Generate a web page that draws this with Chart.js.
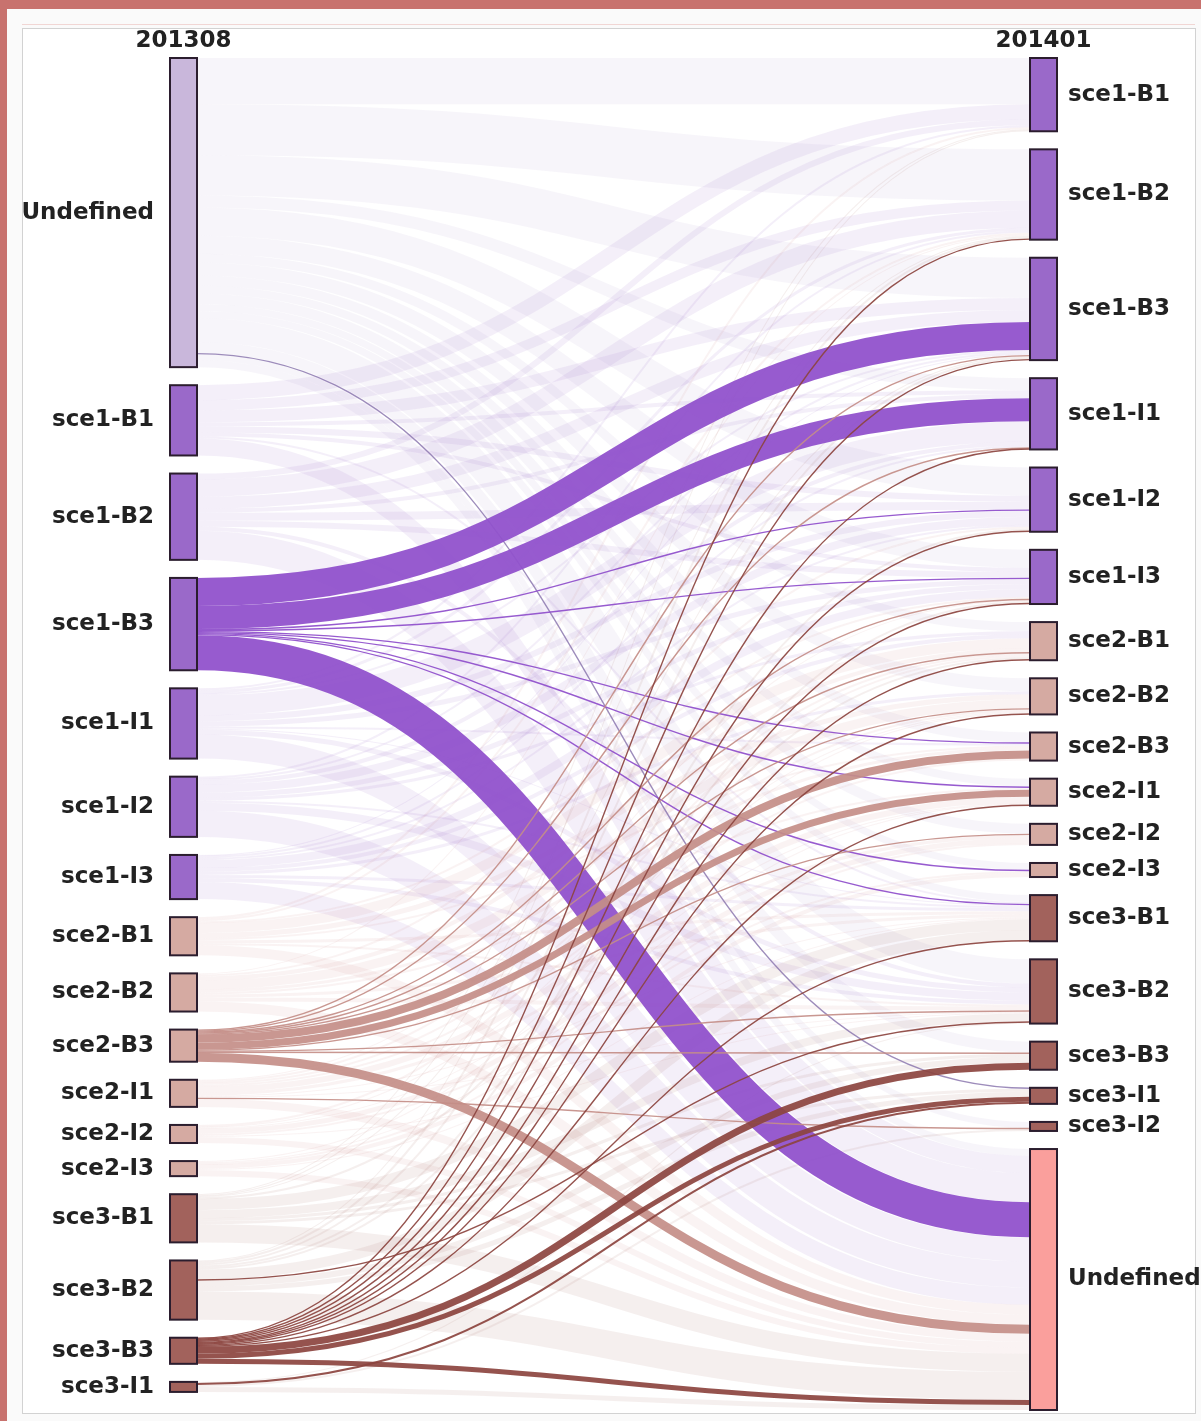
<!DOCTYPE html>
<html>
<head>
<meta charset="utf-8">
<script src="https://cdn.jsdelivr.net/npm/chart.js@4/dist/chart.umd.min.js"></script>
<style>
  body { margin: 0; background: #fafafa; width: 1201px; height: 1421px; overflow: hidden; }
  .band-top { position: absolute; left: 0; top: 0; width: 1201px; height: 9px; background: #c8726e; }
  .band-left { position: absolute; left: 0; top: 0; width: 7px; height: 1421px; background: #c8726e; }
  .rule { position: absolute; left: 22px; top: 24px; width: 1173px; height: 1px; background: #f1d6d4; }
  .panel { position: absolute; left: 22px; top: 28px; width: 1172px; height: 1384px; background: #fff; border: 1px solid #d2d2d2; }
  #chart { position: absolute; left: 0; top: 0; }
</style>
</head>
<body>
<div class="band-top"></div>
<div class="band-left"></div>
<div class="rule"></div>
<div class="panel"></div>
<canvas id="chart" width="1201" height="1421"></canvas>
<script>
const columnLabels = ["201308", "201401"];

const leftNodes = [
  "Undefined", "sce1-B1", "sce1-B2", "sce1-B3", "sce1-I1", "sce1-I2", "sce1-I3",
  "sce2-B1", "sce2-B2", "sce2-B3", "sce2-I1", "sce2-I2", "sce2-I3",
  "sce3-B1", "sce3-B2", "sce3-B3", "sce3-I1",
];

const rightNodes = [
  "sce1-B1", "sce1-B2", "sce1-B3", "sce1-I1", "sce1-I2", "sce1-I3",
  "sce2-B1", "sce2-B2", "sce2-B3", "sce2-I1", "sce2-I2", "sce2-I3",
  "sce3-B1", "sce3-B2", "sce3-B3", "sce3-I1", "sce3-I2", "Undefined",
];

// [left index, right index, value, highlighted]
const flows = [
  [0, 0, 46, 0], [0, 1, 51, 0], [0, 2, 40, 0], [0, 3, 12, 0], [0, 4, 28, 0], [0, 5, 18, 0],
  [0, 6, 9, 0], [0, 7, 13, 0], [0, 8, 10, 0], [0, 9, 8, 0], [0, 10, 10, 0], [0, 11, 7, 0],
  [0, 12, 7, 0], [0, 13, 24, 0], [0, 14, 11, 0], [0, 15, 1, 1], [0, 16, 6, 0], [0, 17, 7, 0],

  [1, 0, 15, 0], [1, 1, 10, 0], [1, 2, 12, 0], [1, 3, 4, 0], [1, 4, 6, 0], [1, 5, 4, 0],
  [1, 12, 2, 0], [1, 17, 17, 0],

  [2, 0, 6, 0], [2, 1, 17, 0], [2, 2, 12, 0], [2, 3, 4, 0], [2, 4, 8, 0], [2, 5, 6, 0],
  [2, 13, 4, 0], [2, 17, 29, 0],

  [3, 2, 28, 1], [3, 3, 23, 1], [3, 4, 1, 1], [3, 5, 1, 1], [3, 8, 1, 1], [3, 9, 1, 1],
  [3, 11, 1, 1], [3, 12, 1, 1], [3, 17, 35, 1],

  [4, 0, 2, 0], [4, 1, 3, 0], [4, 2, 2, 0], [4, 3, 20, 0], [4, 4, 6, 0], [4, 5, 5, 0],
  [4, 8, 2, 0], [4, 12, 1, 0], [4, 13, 5, 0], [4, 17, 24, 0],

  [5, 1, 2, 0], [5, 2, 2, 0], [5, 3, 4, 0], [5, 4, 8, 0], [5, 5, 5, 0], [5, 6, 3, 0],
  [5, 12, 2, 0], [5, 13, 8, 0], [5, 17, 26, 0],

  [6, 2, 1, 0], [6, 3, 2, 0], [6, 4, 2, 0], [6, 5, 8, 0], [6, 6, 4, 0], [6, 7, 3, 0],
  [6, 12, 3, 0], [6, 13, 4, 0], [6, 17, 17, 0],

  [7, 0, 2, 0], [7, 1, 2, 0], [7, 5, 2, 0], [7, 6, 10, 0], [7, 7, 5, 0], [7, 8, 2, 0],
  [7, 12, 3, 0], [7, 13, 2, 0], [7, 17, 10, 0],

  [8, 1, 1, 0], [8, 4, 2, 0], [8, 6, 4, 0], [8, 7, 9, 0], [8, 8, 3, 0], [8, 9, 2, 0],
  [8, 12, 3, 0], [8, 13, 4, 0], [8, 17, 10, 0],

  [9, 2, 1, 1], [9, 3, 1, 1], [9, 5, 1, 1], [9, 6, 1, 1], [9, 7, 1, 1], [9, 8, 8, 1],
  [9, 9, 7, 1], [9, 10, 1, 1], [9, 13, 1, 1], [9, 14, 1, 1], [9, 17, 9, 1],

  [10, 5, 1, 0], [10, 6, 2, 0], [10, 7, 2, 0], [10, 8, 2, 0], [10, 9, 6, 0], [10, 10, 3, 0],
  [10, 12, 1, 0], [10, 13, 1, 0], [10, 16, 1, 1], [10, 17, 8, 0],

  [11, 6, 2, 0], [11, 7, 1, 0], [11, 9, 1, 0], [11, 10, 5, 0], [11, 11, 2, 0], [11, 13, 1, 0],
  [11, 17, 6, 0],

  [12, 7, 1, 0], [12, 9, 1, 0], [12, 10, 2, 0], [12, 11, 4, 0], [12, 12, 1, 0], [12, 17, 6, 0],

  [13, 0, 1, 0], [13, 1, 1, 0], [13, 2, 1, 0], [13, 6, 2, 0], [13, 12, 11, 0], [13, 13, 8, 0],
  [13, 14, 3, 0], [13, 15, 3, 0], [13, 17, 18, 0],

  [14, 0, 1, 0], [14, 1, 2, 0], [14, 2, 2, 0], [14, 4, 2, 0], [14, 5, 2, 0], [14, 12, 10, 0],
  [14, 13, 1, 1], [14, 14, 6, 0], [14, 15, 5, 0], [14, 17, 28, 0],

  [15, 1, 1, 1], [15, 2, 1, 1], [15, 3, 1, 1], [15, 4, 1, 1], [15, 5, 1, 1], [15, 6, 1, 1],
  [15, 7, 1, 1], [15, 9, 1, 1], [15, 12, 1, 1], [15, 14, 7, 1], [15, 15, 5, 1], [15, 17, 5, 1],

  [16, 13, 1, 0], [16, 15, 2, 1], [16, 16, 2, 0], [16, 17, 5, 0],
];

const nodePadding = 18;
const nodeWidth = 27;

const sum = (arr) => arr.reduce((s, v) => s + v, 0);
const leftValues = leftNodes.map((_, i) => sum(flows.filter((f) => f[0] === i).map((f) => f[2])));
const rightValues = rightNodes.map((_, i) => sum(flows.filter((f) => f[1] === i).map((f) => f[2])));

function stack(values) {
  let y = 0;
  return values.map((v) => {
    const node = { y0: y, y1: y + v };
    y += v + nodePadding;
    return node;
  });
}

const leftLayout = stack(leftValues);
const rightLayout = stack(rightValues);
const extent = Math.max(leftLayout[leftLayout.length - 1].y1, rightLayout[rightLayout.length - 1].y1);

// link offsets like d3-sankey: sorted by the node at the other end
const links = flows.map((f) => ({ source: f[0], target: f[1], value: f[2], hl: f[3] === 1 }));
const srcOffset = leftNodes.map(() => 0);
const tgtOffset = rightNodes.map(() => 0);
[...links].sort((a, b) => a.source - b.source || a.target - b.target).forEach((l) => {
  l.sy = leftLayout[l.source].y0 + srcOffset[l.source];
  srcOffset[l.source] += l.value;
});
[...links].sort((a, b) => a.target - b.target || a.source - b.source).forEach((l) => {
  l.ty = rightLayout[l.target].y0 + tgtOffset[l.target];
  tgtOffset[l.target] += l.value;
});

function groupOf(name, side) {
  if (name === "Undefined") return side === "left" ? "undefL" : "undefR";
  return name.slice(0, 4);
}

const nodeFill = { undefL: "#c9b7db", undefR: "#fa9f9c", sce1: "#9a69c9", sce2: "#d5aaa2", sce3: "#a2625c" };
const faintColor = { undefL: "rgba(180,160,205,0.11)", sce1: "rgba(150,100,200,0.10)", sce2: "rgba(205,150,145,0.11)", sce3: "rgba(160,95,90,0.10)" };
const strongColor = { undefL: "rgba(140,120,175,0.85)", sce1: "rgba(145,82,204,0.95)", sce2: "rgba(196,142,136,0.92)", sce3: "rgba(140,68,63,0.92)" };

const sankeyPlugin = {
  id: "sankey",
  afterDraw(chart) {
    const ctx = chart.ctx;
    const xs = chart.scales.x;
    const ys = chart.scales.y;
    const xl = xs.getPixelForValue(0);
    const xr = xs.getPixelForValue(1);
    const x0 = xl + nodeWidth;
    const x1 = xr - nodeWidth;
    const xm = (x0 + x1) / 2;
    const k = ys.getPixelForValue(1) - ys.getPixelForValue(0);

    const drawLink = (l, color, minWidth) => {
      const a = ys.getPixelForValue(l.sy + l.value / 2);
      const b = ys.getPixelForValue(l.ty + l.value / 2);
      ctx.strokeStyle = color;
      ctx.lineWidth = Math.max(minWidth, l.value * k);
      ctx.beginPath();
      ctx.moveTo(x0, a);
      ctx.bezierCurveTo(xm, a, xm, b, x1, b);
      ctx.stroke();
    };

    ctx.save();
    ctx.lineCap = "butt";
    links.filter((l) => !l.hl).forEach((l) => drawLink(l, faintColor[groupOf(leftNodes[l.source], "left")], 1));
    links.filter((l) => l.hl).forEach((l) => drawLink(l, strongColor[groupOf(leftNodes[l.source], "left")], 1.4));

    const drawNode = (x, n, fill) => {
      const top = ys.getPixelForValue(n.y0);
      const h = ys.getPixelForValue(n.y1) - top;
      ctx.fillStyle = fill;
      ctx.fillRect(x, top, nodeWidth, h);
      ctx.strokeStyle = "#2b1d2e";
      ctx.lineWidth = 2;
      ctx.strokeRect(x, top, nodeWidth, h);
      return top + h / 2;
    };

    ctx.font = 'bold 23px "DejaVu Sans"';
    ctx.textBaseline = "middle";

    leftNodes.forEach((name, i) => {
      const mid = drawNode(xl, leftLayout[i], nodeFill[groupOf(name, "left")]);
      ctx.fillStyle = "#222";
      ctx.textAlign = "right";
      ctx.fillText(name, xl - 16, mid);
    });
    rightNodes.forEach((name, i) => {
      const mid = drawNode(x1, rightLayout[i], nodeFill[groupOf(name, "right")]);
      ctx.fillStyle = "#222";
      ctx.textAlign = "left";
      ctx.fillText(name, xr + 11, mid);
    });

    ctx.fillStyle = "#222";
    ctx.textAlign = "center";
    ctx.fillText(columnLabels[0], xl + nodeWidth / 2, 41);
    ctx.fillText(columnLabels[1], x1 + nodeWidth / 2, 41);
    ctx.restore();
  },
};

const ctx = document.getElementById("chart").getContext("2d");
const chart = new Chart(ctx, {
  type: "scatter",
  data: { datasets: [] },
  options: {
    responsive: false,
    animation: false,
    layout: { padding: { left: 170, right: 144, top: 58, bottom: 11 } },
    plugins: { legend: { display: false }, tooltip: { enabled: false } },
    scales: {
      x: { type: "linear", min: 0, max: 1, display: false },
      y: { type: "linear", min: 0, max: extent, reverse: true, display: false },
    },
  },
  plugins: [sankeyPlugin],
});
</script>
</body>
</html>
